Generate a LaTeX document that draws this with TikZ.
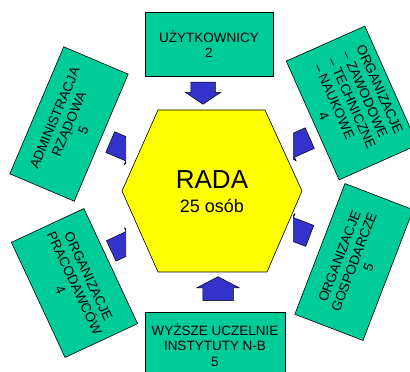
\documentclass[tikz,border=0pt]{standalone}
\usepackage{fontspec}
\setmainfont{Liberation Sans}
\usetikzlibrary{shapes.arrows}

\definecolor{zielony}{RGB}{0,204,153}
\definecolor{niebieski}{RGB}{51,51,204}
\definecolor{zolty}{RGB}{255,255,0}

\tikzset{
	grupa/.style={draw=black, line width=0.6pt, fill=zielony, align=center, inner sep=2pt,
		font=\fontsize{13.5}{15.5}\selectfont},
	strzalka/.style={single arrow, anchor=tail, draw=black, line width=0.5pt, fill=niebieski,
		inner xsep=0pt, inner ysep=11pt, single arrow tip angle=112, single arrow head extend=4pt}
}

\begin{document}
\begin{tikzpicture}[x=1pt, y=1pt]

	\useasboundingbox (0, 0) rectangle (410, 372);
	\clip (0, 0) rectangle (410, 372);

\draw[fill=zolty, line width=0.6pt] (158, 262) -- (265, 262) -- (302, 181) -- (267, 100) -- (158, 100) -- (122, 181) --cycle;
\node[anchor=base, font=\fontsize{26}{26}\selectfont] (rada) at (212, 183) {RADA};
\node[anchor=base, font=\fontsize{18}{18}\selectfont] (osoby) at (212, 159) {25 osób};

\node[grupa, minimum width=128, minimum height=64] (uzyt) at (209, 328) {UŻYTKOWNICY\\2};
\node[grupa, minimum width=140, minimum height=66] (uczel) at (215, 27) {WYŻSZE UCZELNIE\\INSTYTUTY N-B\\5};
\node[grupa, rotate=67, minimum width=138, minimum height=70] (admin) at (69, 248) {ADMINISTRACJA\\RZĄDOWA\\5};
\node[grupa, rotate=-65, minimum width=127, minimum height=80] (praco) at (74.5, 89) {ORGANIZACJE\\PRACODAWCÓW\\4};
\node[grupa, rotate=-66, minimum width=130, minimum height=86, align=left] (zawod) at (352, 269)
	{ORGANIZACJE\\– ZAWODOWE\\– TECHNICZNE\\– NAUKOWE\\\hspace*{3.4em}4};
\node[grupa, rotate=69, minimum width=140, minimum height=73] (gosp) at (354, 110) {ORGANIZACJE\\GOSPODARCZE\\5};

\node[strzalka, rotate=-90, minimum height=22, inner ysep=12pt, single arrow head extend=5.5pt] (s1) at (203, 290) {};
\node[strzalka, rotate=90, minimum height=24, inner ysep=15pt, single arrow tip angle=125, single arrow head extend=6pt] (s2) at (218, 71) {};

\begin{scope}
	\clip (0, 0) rectangle (126, 372);
	\node[strzalka, rotate=-23, minimum height=32] (s3) at (110, 230) {};
	\node[strzalka, rotate=25, minimum height=32] (s4) at (111, 121) {};
\end{scope}
\begin{scope}
	\clip (293, 0) rectangle (410, 372);
	\node[strzalka, rotate=204, minimum height=32] (s5) at (310, 234) {};
	\node[strzalka, rotate=159, minimum height=32] (s6) at (310, 136) {};
\end{scope}

\end{tikzpicture}
\end{document}
